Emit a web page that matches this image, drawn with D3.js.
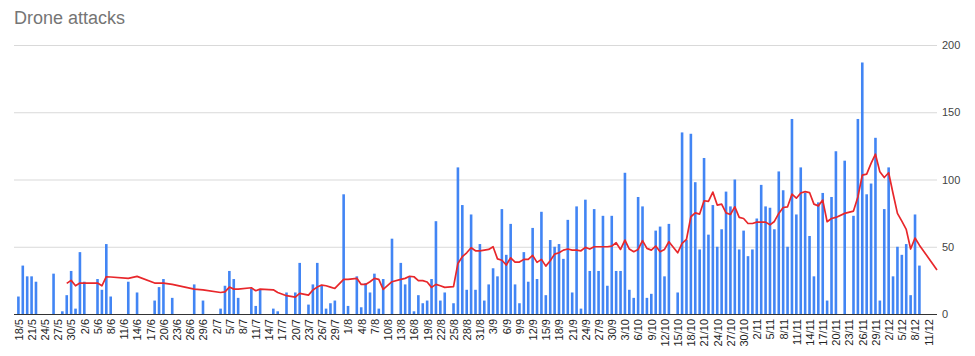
<!DOCTYPE html>
<html>
<head>
<meta charset="utf-8">
<script src="https://cdn.jsdelivr.net/npm/d3@7"></script>
<style>
  html, body { margin: 0; padding: 0; background: #fff; }
  svg { display: block; font-family: Arial, "Liberation Sans", sans-serif; }
</style>
</head>
<body>
<svg id="chart" width="975" height="356"></svg>
<script>
// ---- data ----
const title = "Drone attacks";
const startDay = "18/5/2024";   // first category (index 0)
const endDay = "13/12/2024";    // last category
// daily drone attacks, one entry per day from 18/5 (null = no bar)
const attacks = [
  13, 36, 28, 28, 24, null, null, null, 30, null,
  2, 14, 32, 4, 46, 24, null, null, 26, 18,
  52, 13, null, null, null, 24, null, 16, null, null,
  null, 10, 20, 26, null, 12, null, null, null, null,
  22, null, 10, null, null, null, 4, 21, 32, 26,
  12, null, null, 19, 6, 18, null, null, 4, 2,
  null, 16, null, 16, 38, null, 7, 22, 38, 21,
  4, 8, 10, null, 89, 6, null, 28, 5, 23,
  16, 30, 4, 26, null, 56, null, 38, 22, 28,
  2, 14, 8, 10, 26, 69, 10, 16, null, 8,
  109, 81, 18, 74, 18, 52, 10, 22, 34, 28,
  78, 44, 67, 22, 8, 46, 24, 64, 26, 76,
  14, 55, 50, 52, 41, 70, 16, 80, 4, 85,
  32, 78, 32, 73, 21, 73, 32, 32, 105, 18,
  12, 87, 80, 12, 15, 62, 65, 28, 67, null,
  16, 135, 55, 134, 98, 48, 116, 59, 81, 50,
  63, 91, 80, 100, 48, 62, 43, 48, 71, 96,
  80, 79, 63, 106, 92, 50, 145, 74, 109, 90,
  58, 28, 83, 90, 10, 87, 121, null, 114, null,
  73, 145, 187, 89, 97, 131, 10, 78, 109, 28,
  50, 44, 52, 14, 74, 36, null, null, null, null
];
// red average line, one entry per day from 18/5 (null = no point)
const average = [
  null, null, null, null, null, null, null, null, null, null,
  null, 22.8, 25, 21, 23, 23, null, null, 23, 21,
  27.7, 27.5, null, null, null, 26.5, null, 28, null, null,
  null, 23, 23, 23, null, 22, null, null, null, null,
  18.5, null, 18, null, null, null, 16, 16.5, 20, 18.5,
  18.5, null, null, 19.5, 17.3, 18.5, null, null, 18, 16,
  null, 13.6, null, 12.6, 15.3, null, 14, 17.8, 20, 21.5,
  21, 20, 19, null, 25.7, 25.7, null, 26.5, 22, 22,
  24, 26.5, 25.7, 18.3, null, 24, null, 25.7, 26.5, 28,
  27.7, 24.8, 24.8, 23.8, 19.8, 22, 21, 19.8, null, 20.3,
  37.6, 42.6, 45.5, 49.3, 47, 47, 47.5, 48, 50, 41,
  40, 36.4, 41.8, 38.6, 38.6, 40.6, 40.6, 43.6, 38.4, 40.6,
  35.6, 39.6, 44.5, 45.5, 47.5, 48.3, 47.5, 47.5, 47, 49.5,
  48.3, 50, 50, 50, 50, 50.5, 53, 48, 55, 48.3,
  46.3, 48, 54.5, 48.8, 47.5, 50.5, 46.3, 48, 53.7, null,
  45.5, 52.5, 55.4, 72.3, 75.2, 74.3, 84.2, 83.7, 90.6, 81,
  81.7, 75.2, 74, 79.7, 71.8, 71, 67.3, 67.3, 68.3, 68.3,
  68.3, 66.3, 68.8, 74.8, 79.2, 79.7, 89.1, 86.1, 90, 91,
  90.3, 81.7, 80.4, 84.7, 68.6, 71, 71.8, null, 74.8, null,
  76.5, 87, 103.2, 104, 112, 118.8, 105.7, 101.5, 105, 89.6,
  74.8, 69, 62.9, 48.3, 56.5, 51.2, null, null, null, 32.7
];
const xTickLabels = [
  "18/5","21/5","24/5","27/5","30/5","2/6","5/6","8/6","11/6","14/6",
  "17/6","20/6","23/6","26/6","29/6","2/7","5/7","8/7","11/7","14/7",
  "17/7","20/7","23/7","26/7","29/7","1/8","4/8","7/8","10/8","13/8",
  "16/8","19/8","22/8","25/8","28/8","31/8","3/9","6/9","9/9","12/9",
  "15/9","18/9","21/9","24/9","27/9","30/9","3/10","6/10","9/10","12/10",
  "15/10","18/10","21/10","24/10","27/10","30/10","2/11","5/11","8/11","11/11",
  "14/11","17/11","20/11","23/11","26/11","29/11","2/12","5/12","8/12","11/12"
];
const yTickValues = [0, 50, 100, 150, 200];

// ---- chart ----
const svg = d3.select("#chart");
const parse = d3.utcParse("%d/%m/%Y");
const first = parse(startDay);
const last = parse(endDay);
const dates = attacks.map((d, i) => d3.utcDay.offset(first, i));

const x = d3.scaleUtc()
  .domain([d3.utcDay.offset(first, -1), last])
  .range([14, 937]);
const y = d3.scaleLinear().domain([0, 200]).range([314, 45]);

// title
svg.append("text")
  .attr("x", 14).attr("y", 24)
  .attr("font-size", 18)
  .attr("fill", "#757575")
  .text(title);

// gridlines + right axis labels
const yAxis = d3.axisRight(y).tickValues(yTickValues).tickSize(0).tickPadding(5);
const gy = svg.append("g").attr("transform", "translate(937,0)").call(yAxis);
gy.select(".domain").remove();
gy.selectAll("text").attr("font-size", 11).attr("fill", "#444").attr("font-family", "Arial, 'Liberation Sans', sans-serif");
gy.selectAll(".tick").append("line")
  .attr("x1", 0).attr("x2", 14 - 937 + 0)
  .attr("stroke", (d) => d === 0 ? "none" : "#d9d9d9")
  .attr("stroke-width", 1);

// bars
const bw = 2.6;
svg.append("g")
  .selectAll("rect")
  .data(attacks.map((v, i) => ({ date: dates[i], v })).filter(d => d.v !== null))
  .join("rect")
  .attr("x", d => x(d.date) - bw / 2)
  .attr("y", d => y(d.v))
  .attr("width", bw)
  .attr("height", d => y(0) - y(d.v))
  .attr("fill", "#4285f4");

// x axis
const tickDates = xTickLabels.map(s => parse(s + "/2024"));
const xAxis = d3.axisBottom(x)
  .tickValues(tickDates)
  .tickFormat((d, i) => xTickLabels[i])
  .tickSize(0)
  .tickPadding(0);
const gx = svg.append("g").attr("transform", `translate(0,${y(0)})`).call(xAxis);
gx.select(".domain").attr("stroke", "#333").attr("d", `M14,0.5H937`);
gx.selectAll("text")
  .attr("transform", "rotate(-90)")
  .attr("x", -5)
  .attr("y", 0)
  .attr("dy", "0.35em")
  .attr("text-anchor", "end")
  .attr("font-size", 11)
  .attr("fill", "#222")
  .attr("font-family", "Arial, 'Liberation Sans', sans-serif");

// average line
const lineData = average.map((v, i) => ({ date: dates[i], v })).filter(d => d.v !== null);
svg.append("path")
  .datum(lineData)
  .attr("fill", "none")
  .attr("stroke", "#e8272b")
  .attr("stroke-width", 1.7)
  .attr("stroke-linejoin", "round")
  .attr("d", d3.line().x(d => x(d.date)).y(d => y(d.v)));
</script>
</body>
</html>
